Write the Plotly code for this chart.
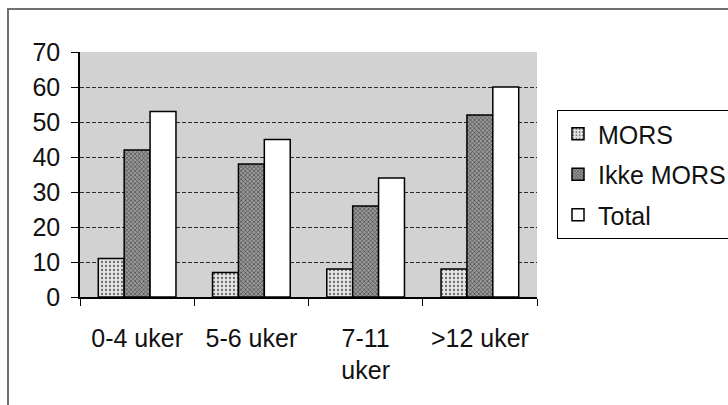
import plotly.graph_objects as go

# Weeks since onset, grouped by patient category
categories = ["0-4 uker", "5-6 uker", "7-11<br>uker", ">12 uker"]
series_names = ["MORS", "Ikke MORS", "Total"]
mors = [11, 7, 8, 8]
ikke_mors = [42, 38, 26, 52]
total = [53, 45, 34, 60]

y_ticks = [0, 10, 20, 30, 40, 50, 60, 70]

FONT = "Liberation Sans, Arial, sans-serif"
FS = 25

# Plot area in pixels (for placing the frame lines around the chart)
W, H = 728, 405
L, R, T, B = 80, 191, 52, 108
pw, ph = W - L - R, H - T - B


def px_x(x):
    return (x - L) / pw


def px_y(y):
    return (H - B - y) / ph


fig = go.Figure()

styles = [
    dict(color="#dedede", pattern=dict(shape=".", fgcolor="#6a6a6a", bgcolor="#e4e4e4",
                                       size=4, solidity=0.25, fillmode="replace")),
    dict(color="#7c7c7c", pattern=dict(shape="x", fgcolor="#3a3a3a", bgcolor="#9a9a9a",
                                       size=3, solidity=0.35, fillmode="replace")),
    dict(color="#ffffff"),
]

for name, vals, st in zip(series_names, [mors, ikke_mors, total], styles):
    fig.add_trace(go.Bar(
        x=categories, y=vals, name=name, legendgroup=name,
        marker=dict(line=dict(color="#000000", width=1.5), **st),
    ))

fig.update_layout(
    width=W, height=H,
    margin=dict(l=L, r=R, t=T, b=B, pad=0, autoexpand=False),
    paper_bgcolor="#ffffff",
    plot_bgcolor="#d2d2d2",
    barmode="group",
    bargap=0.32,
    bargroupgap=0,
    font=dict(family=FONT, size=FS, color="#111111"),
    legend=dict(
        x=px_x(557), y=px_y(110), xanchor="left", yanchor="top",
        bgcolor="#ffffff", bordercolor="#000000", borderwidth=1,
        font=dict(family=FONT, size=FS, color="#111111"),
        tracegroupgap=5, itemwidth=30,
    ),
    showlegend=True,
    xaxis=dict(
        type="category",
        showline=True, linecolor="#000000", linewidth=1.5,
        ticks="outside", tickson="boundaries", ticklen=7, tickcolor="#000000",
        tickfont=dict(family=FONT, size=FS, color="#111111"),
        ticklabelstandoff=18,
        showgrid=False,
    ),
    yaxis=dict(
        range=[0, 70], tickvals=y_ticks,
        showline=True, linecolor="#000000", linewidth=1.5,
        ticks="outside", ticklen=7, tickcolor="#000000",
        tickfont=dict(family=FONT, size=FS, color="#111111"),
        ticklabelstandoff=6,
        showgrid=True, gridcolor="#2a2a2a", gridwidth=1, griddash="4px,2px",
        zeroline=False,
    ),
    shapes=[
        dict(type="line", xref="paper", yref="paper",
             x0=px_x(7), x1=px_x(728), y0=px_y(9), y1=px_y(9),
             line=dict(color="#707070", width=2)),
        dict(type="line", xref="paper", yref="paper",
             x0=px_x(8), x1=px_x(8), y0=px_y(9), y1=px_y(405),
             line=dict(color="#707070", width=2)),
    ],
)

fig.write_html("out.html")
